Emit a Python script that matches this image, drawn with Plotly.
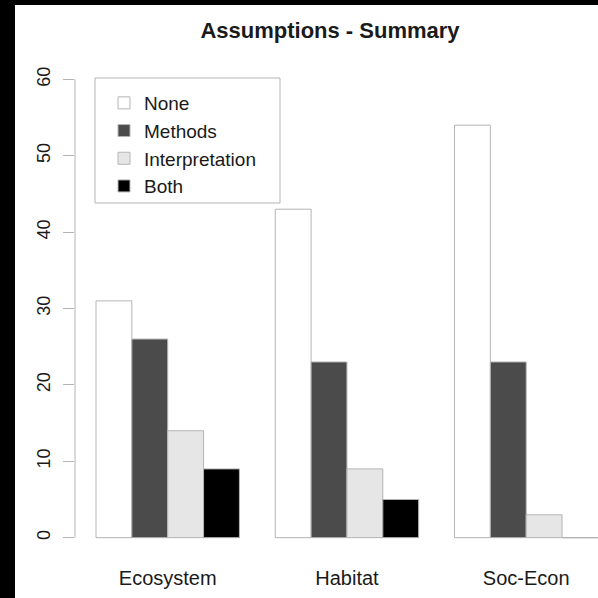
import plotly.graph_objects as go

categories = ["Ecosystem", "Habitat", "Soc-Econ"]
series_names = ["None", "Methods", "Interpretation", "Both"]
none_vals = [31, 43, 54]
methods_vals = [26, 23, 23]
interp_vals = [14, 9, 3]
both_vals = [9, 5, 0]
y_ticks = [0, 10, 20, 30, 40, 50, 60]

series_values = [none_vals, methods_vals, interp_vals, both_vals]
colors = ["#ffffff", "#4b4b4b", "#e6e6e6", "#000000"]
border = "#b4b4b4"
FONT = "Liberation Sans, Arial, sans-serif"

W, H = 598, 598
L, R, T, B = 75, 0, 61, 42
PW, PH = W - L - R, H - T - B

def px2x(px):
    return (px - L) / PW

def py2y(py):
    return (H - B - py) / PH

fig = go.Figure()
for name, vals, col in zip(series_names, series_values, colors):
    fig.add_trace(go.Bar(
        x=categories, y=vals, name=name,
        marker=dict(color=col, line=dict(color=border, width=1)),
    ))

bargap = 0.2
n = len(series_names)
bw = (1 - bargap) / n
shapes = []
# zero-height bars drawn as their bottom edge
for i, vals in enumerate(series_values):
    for j, v in enumerate(vals):
        if v == 0:
            x0 = j - (1 - bargap) / 2 + i * bw
            shapes.append(dict(type="line", xref="x", yref="y",
                               x0=x0, x1=x0 + bw, y0=0, y1=0,
                               line=dict(color=border, width=1)))
# y axis line spanning the tick range only
shapes.append(dict(type="line", xref="paper", yref="y", x0=0, x1=0,
                   y0=y_ticks[0], y1=y_ticks[-1], line=dict(color=border, width=1)))
# black scan borders (left and top)
shapes.append(dict(type="rect", xref="paper", yref="paper",
                   x0=px2x(-5), x1=px2x(15), y0=py2y(H + 5), y1=py2y(-5),
                   fillcolor="black", line=dict(width=0)))
shapes.append(dict(type="rect", xref="paper", yref="paper",
                   x0=px2x(-5), x1=px2x(W + 5), y0=py2y(5), y1=py2y(-5),
                   fillcolor="black", line=dict(width=0)))
# legend box
shapes.append(dict(type="rect", xref="paper", yref="paper",
                   x0=px2x(95), x1=px2x(280), y0=py2y(203), y1=py2y(78),
                   line=dict(color=border, width=1), fillcolor="rgba(0,0,0,0)"))

cat_center0 = 167.7
cat_px = 179.25
xr = [(L - cat_center0) / cat_px, (W - R - cat_center0) / cat_px]

fig.update_layout(
    width=W, height=H,
    margin=dict(l=L, r=R, t=T, b=B, pad=0),
    paper_bgcolor="white", plot_bgcolor="white",
    barmode="group", bargap=bargap, bargroupgap=0,
    font=dict(family=FONT, color="#1a1a1a"),
    title=dict(text="<b>Assumptions - Summary</b>", xref="paper",
               x=px2x(330), xanchor="center", yref="container",
               y=1 - 30 / H, yanchor="middle",
               font=dict(size=22, color="#1a1a1a", family=FONT)),
    xaxis=dict(range=xr, showline=False, showgrid=False, zeroline=False,
               ticks="", tickfont=dict(size=20), ticklabelstandoff=8),
    yaxis=dict(range=[-2.4, 62.4], tickvals=y_ticks, showgrid=False,
               zeroline=False, showline=False, ticks="outside", ticklen=11,
               tickcolor=border, tickwidth=1, tickangle=-90,
               tickfont=dict(size=18), ticklabelstandoff=6),
    legend=dict(x=px2x(104), y=py2y(84), xanchor="left", yanchor="top",
                bgcolor="rgba(0,0,0,0)", borderwidth=0,
                font=dict(size=19, color="#1a1a1a"), tracegroupgap=0),
    shapes=shapes,
    showlegend=True,
)

fig.write_html("out.html", config={"displayModeBar": False},
               post_script="document.body.style.margin='0';document.body.style.overflow='hidden';")
